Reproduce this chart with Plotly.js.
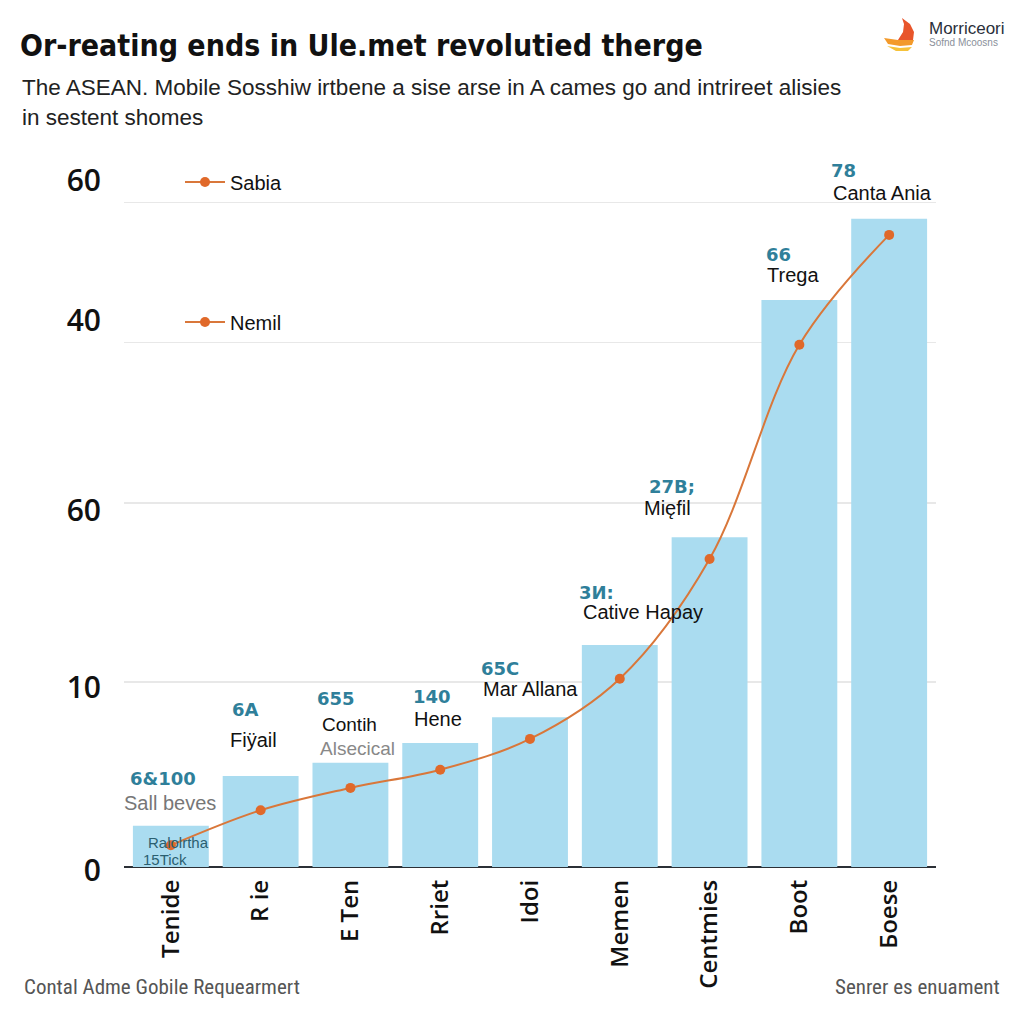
<!DOCTYPE html>
<html>
<head>
<meta charset="utf-8">
<script src="https://cdn.plot.ly/plotly-3.0.1.min.js"></script>
<style>html,body{margin:0;padding:0;background:#fff;}#chart{width:1024px;height:1024px;}</style>
</head>
<body>
<div id="chart"></div>
<script>
// ---- data ----
const categories = ["Tenide", "R ie", "E Ten", "Rriet", "Idoi", "Memen", "Centmies", "Boot", "Боеse"];
const barValues = [5.9, 13.0, 14.9, 17.7, 21.4, 31.7, 47.1, 81.0, 92.6];
const lineValues = [3.1, 8.1, 11.3, 13.9, 18.3, 26.9, 44.0, 74.6, 90.3];
const gridVals = [26.4, 52.0, 74.9, 94.9];
const tickVals = [-0.43, 25.7, 51.0, 78.1, 98.1];
const tickText = ["0", "10", "60", "40", "60"];
const valueLabels = ["6&100", "6A", "655", "140", "65C", "3И:", "27B;", "66", "78"];
const nameLabels = ["Sall beves", "Fiÿail", "Contih", "Hene", "Mar Allana", "Cative Hapay", "Mięfil", "Trega", "Canta Ania"];
const subLabels = ["", "", "Alsecical", "", "", "", "", "", ""];
const lineName = "Sabia";
const secondName = "Nemil";
const titleText = "Or-reating ends in Ule.met revolutied therge";
const subtitleLines = ["The ASEAN. Mobile Sosshiw irtbene a sise arse in A cames go and intrireet alisies", "in sestent shomes"];
const footLeft = "Contal Adme Gobile Requearmert";
const footRight = "Senrer es enuament";
const brandName = "Morriceori";
const brandSub = "Sofnd Mcoosns";
const innerLabels = ["Ralolrtha", "15Tick"];

// ---- layout positions (pixels) ----
const L = 124, R = 936, T = 167, B = 874;
const px = x => (x - L) / (R - L);
const py = y => (B - y) / (B - T);
const valuePos = [[163,778],[245,709],[336,698],[432,696],[500,668],[596,592],[672,486],[778,254],[843,171]];
const namePos  = [[170,803],[253,740],[349,724],[438,719],[530,689],[643,612],[667,508],[793,275],[882,193]];
const subPos   = [null,null,[357,748],null,null,null,null,null,null];
const innerPos = [[178,842],[165,859]];

const orange = "#d9773a";
const teal = "#2f7f9a";

const traces = [
  {
    type: "bar", x: categories, y: barValues, name: "bars", showlegend: false,
    marker: {color: "#aadcf0"}, hoverinfo: "skip"
  },
  {
    type: "scatter", mode: "lines+markers", x: categories, y: lineValues, name: lineName,
    line: {color: orange, width: 2, shape: "spline", smoothing: 1.0},
    marker: {color: "#e0692a", size: 10}, legend: "legend"
  },
  {
    type: "scatter", mode: "lines+markers", x: [null], y: [null], name: secondName,
    line: {color: orange, width: 2}, marker: {color: "#e0692a", size: 10},
    legend: "legend2", yaxis: "y2"
  }
];

const annotations = [];
function addText(text, pos, opts) {
  annotations.push(Object.assign({
    text: text, xref: "paper", yref: "paper", x: px(pos[0]), y: py(pos[1]),
    xanchor: "center", yanchor: "middle", showarrow: false
  }, opts));
}
for (let i = 0; i < categories.length; i++) {
  addText(valueLabels[i], valuePos[i], {font: {family: "DejaVu Sans, Verdana, sans-serif", size: 18, color: teal, weight: 700}});
  addText(nameLabels[i], namePos[i], {font: {family: "Liberation Sans, Arial, sans-serif", size: i === 2 ? 19 : 20, color: i === 0 ? "#777" : "#111"}});
  if (subLabels[i]) addText(subLabels[i], subPos[i], {font: {family: "Liberation Sans, Arial, sans-serif", size: 19, color: "#888"}});
}
innerLabels.forEach((t, i) => addText(t, innerPos[i], {font: {family: "Liberation Sans, Arial, sans-serif", size: 15, color: "#2a5f70"}}));

// header / footer
const subFont = {family: "Liberation Sans, Arial, sans-serif", size: 22.5, color: "#222"};
annotations.push({text: subtitleLines[0], xref: "paper", yref: "paper", x: px(20), y: py(87), xanchor: "left", yanchor: "middle", showarrow: false, font: subFont});
annotations.push({text: subtitleLines[1], xref: "paper", yref: "paper", x: px(20), y: py(117), xanchor: "left", yanchor: "middle", showarrow: false, font: subFont});
const footFont = {family: "Roboto Condensed, Liberation Sans Narrow, sans-serif", size: 21, color: "#555"};
annotations.push({text: footLeft, xref: "paper", yref: "paper", x: px(22), y: py(987), xanchor: "left", yanchor: "middle", showarrow: false, font: footFont});
annotations.push({text: footRight, xref: "paper", yref: "paper", x: px(1002), y: py(987), xanchor: "right", yanchor: "middle", showarrow: false, font: footFont});
annotations.push({text: brandName, xref: "paper", yref: "paper", x: px(927), y: py(29), xanchor: "left", yanchor: "middle", showarrow: false, font: {family: "Liberation Sans Narrow, Arial, sans-serif", size: 17, color: "#2a2f3a"}});
annotations.push({text: brandSub, xref: "paper", yref: "paper", x: px(927), y: py(43), xanchor: "left", yanchor: "middle", showarrow: false, font: {family: "Liberation Sans Narrow, Arial, sans-serif", size: 10, color: "#8a8f9a"}});

// logo shapes (paper coords)
function pathPx(points) {
  return points.map((p, i) => (i === 0 ? "M" : "L") + px(p[0]).toFixed(4) + "," + py(p[1]).toFixed(4)).join(" ") + " Z";
}
const shapes = [
  {type: "path", xref: "paper", yref: "paper", path: pathPx([[902,18],[910,24],[914,32],[913,40],[898,40],[903,32],[904,24]]), fillcolor: "#e8552b", line: {width: 0}},
  {type: "path", xref: "paper", yref: "paper", path: pathPx([[884,38],[898,40],[914,40],[912,45],[900,46],[888,44]]), fillcolor: "#f39a2b", line: {width: 0}},
  {type: "path", xref: "paper", yref: "paper", path: pathPx([[887,46],[900,48],[912,47],[908,51],[896,51]]), fillcolor: "#f6c23a", line: {width: 0}}
];

const layout = {
  width: 1024, height: 1024,
  paper_bgcolor: "#ffffff", plot_bgcolor: "#ffffff",
  margin: {l: L, r: 1024 - R, t: T, b: 1024 - B, pad: 0},
  title: {
    text: titleText, xref: "container", yref: "container", x: 20 / 1024, xanchor: "left",
    y: 1 - 45 / 1024, yanchor: "middle",
    font: {family: "DejaVu Sans Condensed, Liberation Sans Narrow, sans-serif", size: 30, color: "#111", weight: 700}
  },
  bargap: 0.155,
  xaxis: {
    type: "category", tickangle: -90, showgrid: false, showline: false, ticks: "",
    tickfont: {family: "Open Sans, sans-serif", size: 24, color: "#111", weight: 600},
    fixedrange: true
  },
  yaxis: {
    range: [-1, 100], tickvals: gridVals, showticklabels: false, showgrid: true,
    gridcolor: "#e8e8e8", gridwidth: 1.5, zeroline: true, zerolinecolor: "#2b3036", zerolinewidth: 2.5,
    showline: false, ticks: ""
  },
  yaxis2: {
    overlaying: "y", side: "left", range: [-1, 100], tickvals: tickVals, ticktext: tickText,
    showgrid: false, zeroline: false, showline: false, ticks: "", ticklabelstandoff: 22,
    tickfont: {family: "Open Sans, sans-serif", size: 30, color: "#111", weight: 600}
  },
  legend: {
    x: px(180), y: py(182), xanchor: "left", yanchor: "middle", bgcolor: "rgba(0,0,0,0)",
    font: {family: "Liberation Sans, Arial, sans-serif", size: 20, color: "#111"}, itemwidth: 40
  },
  legend2: {
    x: px(180), y: py(322), xanchor: "left", yanchor: "middle", bgcolor: "rgba(0,0,0,0)",
    font: {family: "Liberation Sans, Arial, sans-serif", size: 20, color: "#111"}, itemwidth: 40
  },
  annotations: annotations,
  shapes: shapes,
  showlegend: true
};

Plotly.newPlot("chart", traces, layout, {displayModeBar: false, staticPlot: true});
</script>
</body>
</html>
